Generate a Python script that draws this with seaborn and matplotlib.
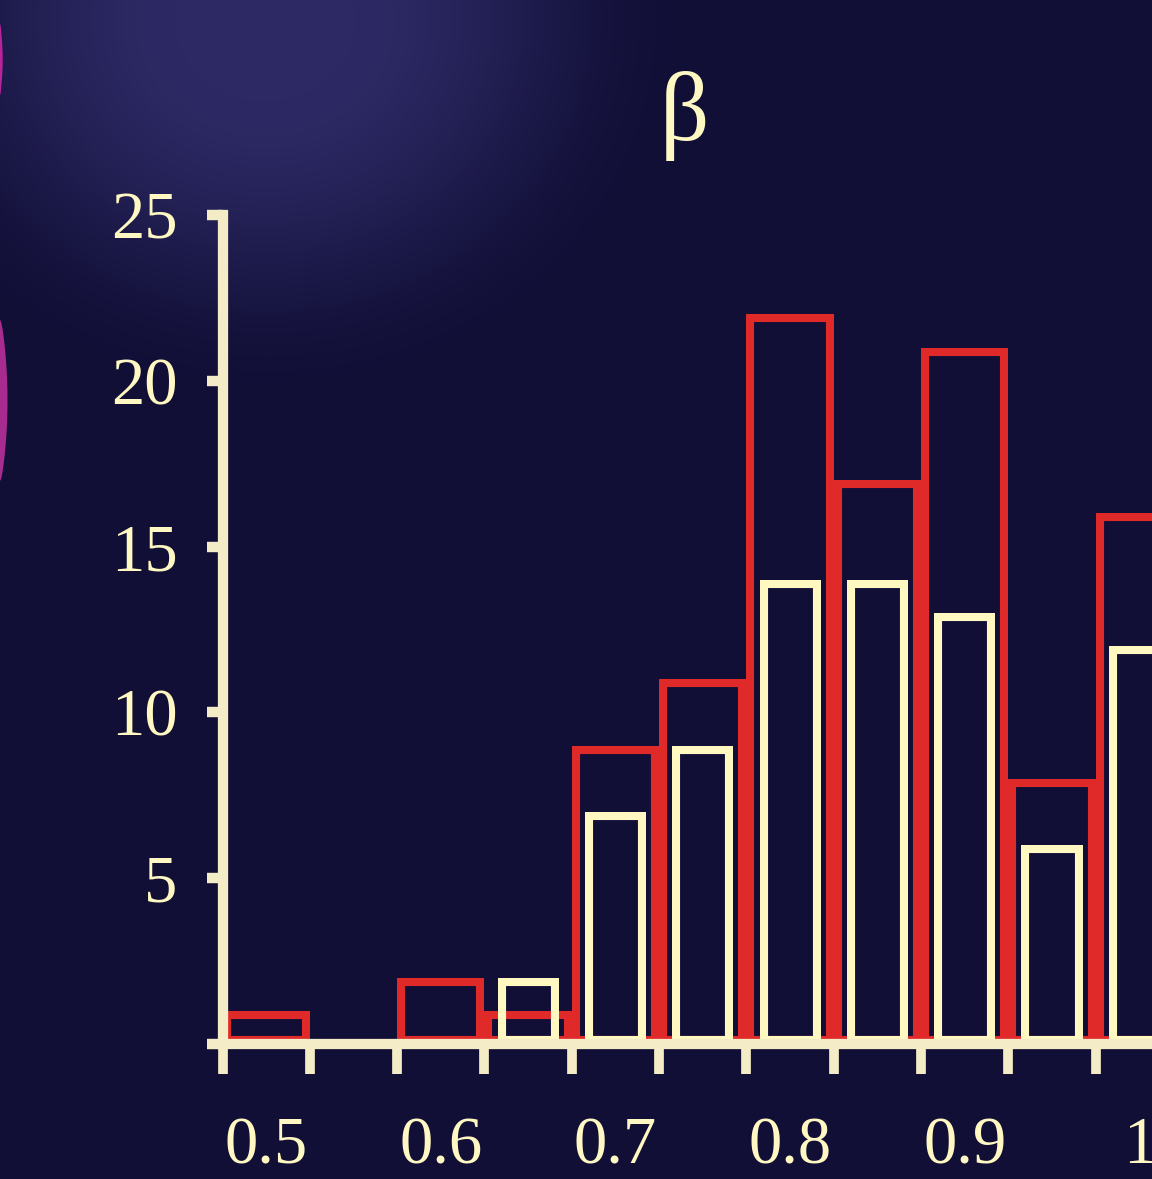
import numpy as np
import matplotlib
matplotlib.use("Agg")
import matplotlib.pyplot as plt
import seaborn as sns

# ---- data ----
bin_centers = [0.5, 0.55, 0.6, 0.65, 0.7, 0.75, 0.8, 0.85, 0.9, 0.95, 1.0]
red_counts = [1, 0, 2, 1, 9, 11, 22, 17, 21, 8, 16]
cream_counts = [0, 0, 0, 2, 7, 9, 14, 14, 13, 6, 12]
x_tick_values = [0.5, 0.6, 0.7, 0.8, 0.9, 1.0]
x_tick_labels = ["0.5", "0.6", "0.7", "0.8", "0.9", "1"]
y_tick_values = [0, 5, 10, 15, 20, 25]
y_tick_labels = ["", "5", "10", "15", "20", "25"]
title_text = "β"

# ---- style ----
BG = "#110f36"
RED = "#e02a2a"
CREAM = "#fff8c0"
SPINE = "#f3ecc6"
TEXT = "#fff8c2"
MAGENTA = "#a82c8f"

sns.set_theme(style="ticks")
plt.rcParams['font.family'] = ['Liberation Serif', 'DejaVu Serif']

W, H = 1152, 1179
fig = plt.figure(figsize=(W / 100, H / 100), dpi=100)
fig.patch.set_facecolor(BG)

# background glow
bg = fig.add_axes([0, 0, 1, 1], zorder=0)
yy, xx = np.mgrid[0:H, 0:W]
d = np.hypot((xx - 265.0), (yy - 20.0) / 0.9)
t = np.clip((d - 90) / (430 - 90), 0, 1)
f = 1 - t * t * (3 - 2 * t)
c0 = np.array([17, 15, 54]) / 255
c1 = np.array([44, 41, 100]) / 255
img = c0 + (c1 - c0) * f[..., None]
bg.imshow(img, extent=(0, W, H, 0), interpolation='bilinear', aspect='auto')
# magenta curves at the left edge
ty = np.linspace(24, 94, 60)
tx = 2.2 * np.sin(np.pi * (ty - 24) / (94 - 24))
bg.fill_betweenx(ty, -1, tx, color="#b8239c", lw=0)
my = np.linspace(320, 480, 80)
mx = 7.0 * np.sin(np.pi * (my - 320) / (480 - 320)) ** 0.7
bg.fill_betweenx(my, -1, mx, color=MAGENTA, lw=0)
bg.set_xlim(0, W)
bg.set_ylim(H, 0)
bg.axis('off')

# ---- main axes ----
px_per_unit_x = 1746.4
left_px, y0_px, y25_px = 222.5, 1044.0, 215.0
xmin, xmax = 0.475, 1.025
ax = fig.add_axes([left_px / W, (H - y0_px) / H,
                   (xmax - xmin) * px_per_unit_x / W, (y0_px - y25_px) / H],
                  zorder=1)
ax.set_facecolor('none')

bw = bin_centers[1] - bin_centers[0]
edges = [round(c - bw / 2, 4) for c in bin_centers] + [round(bin_centers[-1] + bw / 2, 4)]

LW = 5.8  # visible (inner) stroke width in points

n0 = len(ax.patches)
sns.histplot(x=bin_centers, weights=red_counts, bins=edges, fill=False,
             element="bars", color=RED, linewidth=2 * LW, ax=ax)
for p in ax.patches[n0:]:
    p.set_edgecolor(RED)
    p.set_clip_path(p)
    p.set_joinstyle('miter')
    p.set_zorder(2)

n1 = len(ax.patches)
sns.histplot(x=bin_centers, weights=cream_counts, bins=edges, fill=False,
             element="bars", shrink=0.7, color=CREAM, linewidth=2 * LW, ax=ax)
for p in ax.patches[n1:]:
    p.set_edgecolor(CREAM)
    p.set_clip_path(p)
    p.set_joinstyle('miter')
    p.set_zorder(3)

ax.set_xlim(xmin, xmax)
ax.set_ylim(0, 25)
ax.set_xlabel("")
ax.set_ylabel("")

ax.set_xticks(x_tick_values, x_tick_labels)
ax.set_xticks(edges, minor=True)
ax.set_yticks(y_tick_values, y_tick_labels)
ax.tick_params(axis='x', which='major', length=0, pad=52, labelsize=48,
               labelcolor=TEXT, bottom=True)
ax.tick_params(axis='x', which='minor', length=21.6, width=7, color=SPINE,
               direction='out', bottom=True)
ax.tick_params(axis='y', which='major', length=11.2, width=7.5, color=SPINE,
               pad=21, labelsize=48, labelcolor=TEXT, direction='out', left=True)
ax.tick_params(axis='y', which='minor', left=False)

for s in ['top', 'right']:
    ax.spines[s].set_visible(False)
for s in ['left', 'bottom']:
    ax.spines[s].set_color(SPINE)
    ax.spines[s].set_linewidth(7.4)
    ax.spines[s].set_capstyle('projecting')
    ax.spines[s].set_zorder(4)

fig.text(684 / W, 1 - 140 / H, title_text, ha='center', va='baseline',
         fontsize=70, color=TEXT)

fig.savefig("out.png", dpi=100, facecolor=BG)
